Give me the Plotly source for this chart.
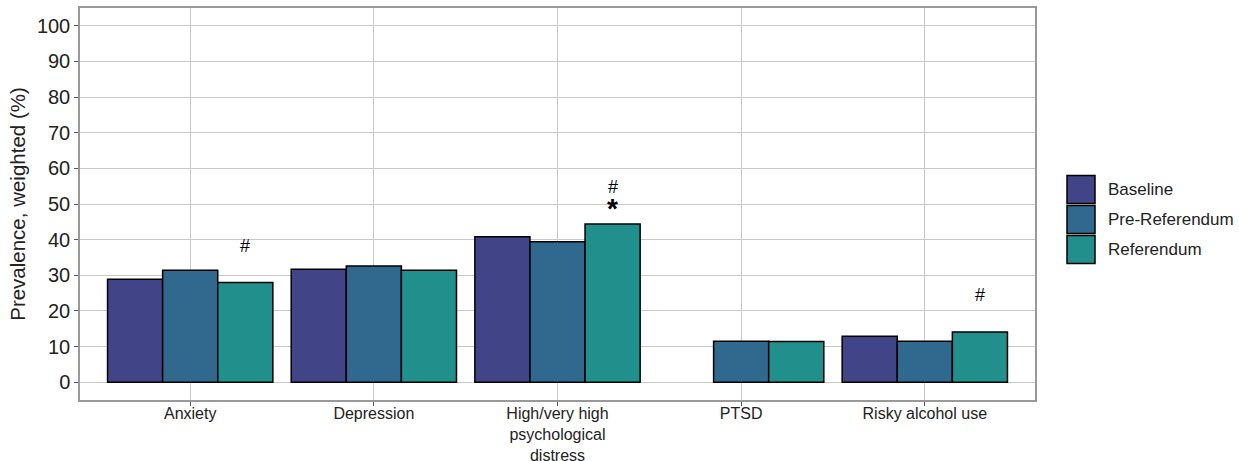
import plotly.graph_objects as go

categories = ["Anxiety", "Depression", "High/very high<br>psychological<br>distress", "PTSD", "Risky alcohol use"]
series_names = ["Baseline", "Pre-Referendum", "Referendum"]
baseline = [28.9, 31.7, 40.8, None, 12.9]
pre_referendum = [31.4, 32.6, 39.4, 11.5, 11.5]
referendum = [28.0, 31.4, 44.4, 11.4, 14.1]
colors = ["#414487", "#31688E", "#21908C"]

# significance markers (category index, series index, symbol, offset above bar)
markers = [(0, 2, "#", 10), (2, 2, "#", 10), (2, 2, "*", 5), (4, 2, "#", 10)]

values = [baseline, pre_referendum, referendum]

W, H = 1239, 461
L, R, T, B = 80, 204, 8, 61
FONT = "Liberation Sans, Arial"
TXT = "#222222"

fig = go.Figure()
for name, vals, col in zip(series_names, values, colors):
    fig.add_trace(go.Bar(
        x=categories, y=vals, name=name,
        marker=dict(color=col, line=dict(color="black", width=1.5)),
        showlegend=False,
    ))

offsets = [-0.3, 0.0, 0.3]
for ci, si, sym, off in markers:
    v = values[si][ci]
    star = sym == "*"
    fig.add_annotation(
        x=ci + offsets[si], y=v + off, xref="x", yref="y",
        text=("<b>*</b>" if star else sym), showarrow=False,
        font=dict(family=FONT, size=(28 if star else 18), color="black"),
        yshift=(-2 if star else 1),
    )

# legend drawn manually (ggplot style keys)
pw = W - L - R
ph = H - T - B
def px_x(px):
    return (px - L) / pw
def px_y(py):
    return (H - B - py) / ph

key_top = 174.5
key_h = 30
for i, (name, col) in enumerate(zip(series_names, colors)):
    y0 = key_top + i * key_h
    fig.add_shape(type="rect", xref="paper", yref="paper",
                  x0=px_x(1067), x1=px_x(1095), y0=px_y(y0 + key_h - 1), y1=px_y(y0 + 1),
                  fillcolor=col, line=dict(color="black", width=1.5))
    fig.add_annotation(xref="paper", yref="paper", x=px_x(1106), y=px_y(y0 + key_h / 2),
                       text=name, showarrow=False, xanchor="left", yanchor="middle",
                       font=dict(family=FONT, size=17, color=TXT))

fig.update_layout(
    width=W, height=H,
    margin=dict(l=L, r=R, t=T, b=B, pad=0),
    barmode="group", bargap=0.1, bargroupgap=0,
    plot_bgcolor="white", paper_bgcolor="white",
    font=dict(family=FONT, color=TXT),
    showlegend=False,
)
fig.update_xaxes(
    automargin=False,
    range=[-0.6, 4.6], showgrid=True, gridcolor="#c8c8c8", gridwidth=1,
    ticks="outside", ticklen=4, tickcolor="#555", tickfont=dict(size=16, color=TXT),
    ticklabelstandoff=-6,
    showline=True, linecolor="#999999", linewidth=1.5, mirror=True, zeroline=False,
)
fig.update_yaxes(
    automargin=False,
    range=[-5, 105], tickmode="array", tickvals=list(range(0, 101, 10)),
    showgrid=True, gridcolor="#c8c8c8", gridwidth=1,
    ticks="outside", ticklen=4, tickcolor="#555", tickfont=dict(size=20, color=TXT),
    showline=True, linecolor="#999999", linewidth=1.5, mirror=True, zeroline=False,
    title=dict(text="Prevalence, weighted (%)", font=dict(size=20.5, color=TXT), standoff=6),
)

fig.write_html(
    "out.html",
    config={"displayModeBar": False},
    post_script="document.body.style.margin='0';document.body.style.overflow='hidden';",
)
